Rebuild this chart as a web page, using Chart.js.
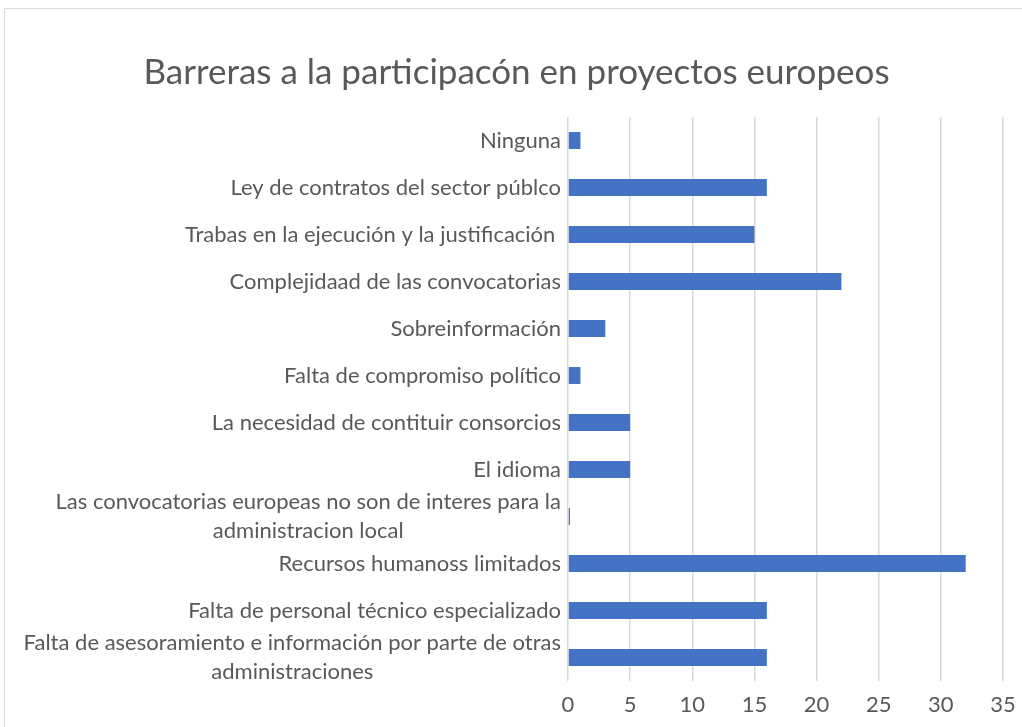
<!DOCTYPE html>
<html>
<head>
<meta charset="utf-8">
<script src="https://cdn.jsdelivr.net/npm/chart.js@4"></script>
<style>
  body { margin: 0; background: #fff; overflow: hidden; }
  .frame { position: absolute; left: 4px; top: 8px; width: 1100px; height: 800px; border: 1px solid #d9d9d9; }
  #chart { position: absolute; left: 0; top: 0; }
</style>
</head>
<body>
<div class="frame"></div>
<canvas id="chart" width="1022" height="727"></canvas>
<script>
const chartTitle = 'Barreras a la participacón en proyectos europeos'

// Categories top to bottom; two long ones are split over two lines
const barriers = [
  'Ninguna',
  'Ley de contratos del sector públco',
  'Trabas en la ejecución y la justificación ',
  'Complejidaad de las convocatorias',
  'Sobreinformación',
  'Falta de compromiso político',
  'La necesidad de contituir consorcios',
  'El idioma',
  ['Las convocatorias europeas no son de interes para la', 'administracion local'],
  'Recursos humanoss limitados',
  'Falta de personal técnico especializado',
  ['Falta de asesoramiento e información por parte de otras', 'administraciones']
]

const responses = [1, 16, 15, 22, 3, 1, 5, 5, 0, 32, 16, 16]

const xTicks = [0, 5, 10, 15, 20, 25, 30, 35]

const textColor = '#595959'
const fontFamily = 'Lato, "Open Sans", sans-serif'
const labelSize = 22
const labelLineHeight = 29

// Category labels drawn by hand so that wrapped lines are centred on each other
const wrappedLabels = {
  id: 'wrappedLabels',
  afterDraw(chart) {
    const ctx = chart.ctx
    const yScale = chart.scales.y
    const right = chart.chartArea.left - 7
    ctx.save()
    ctx.font = labelSize + 'px ' + fontFamily
    ctx.fillStyle = textColor
    ctx.textBaseline = 'middle'
    ctx.textAlign = 'center'
    barriers.forEach((label, i) => {
      const lines = Array.isArray(label) ? label : [label]
      const widest = Math.max(...lines.map(l => ctx.measureText(l).width))
      const cx = right - widest / 2
      const cy = yScale.getPixelForTick(i)
      const top = cy - (lines.length - 1) * labelLineHeight / 2
      lines.forEach((line, j) => {
        ctx.fillText(line, cx, top + j * labelLineHeight)
      })
    })
    ctx.restore()
  }
}

new Chart(document.getElementById('chart'), {
  type: 'bar',
  data: {
    labels: barriers,
    datasets: [{
      label: 'Respuestas',
      data: responses,
      backgroundColor: '#4472c4',
      borderWidth: 0,
      barPercentage: 0.36,
      categoryPercentage: 1,
      minBarLength: 2
    }]
  },
  options: {
    indexAxis: 'y',
    responsive: false,
    animation: false,
    layout: {
      padding: { left: 30, right: 19, top: 0, bottom: 9 }
    },
    plugins: {
      legend: { display: false },
      tooltip: { enabled: false },
      title: {
        display: true,
        text: chartTitle,
        color: textColor,
        font: { family: fontFamily, size: 35, weight: 'normal', lineHeight: 1.2 },
        padding: { top: 52, bottom: 23 }
      }
    },
    scales: {
      x: {
        min: xTicks[0],
        max: xTicks[xTicks.length - 1],
        afterBuildTicks: scale => { scale.ticks = xTicks.map(v => ({ value: v })) },
        afterFit: scale => {
          scale.height = 37
          scale.paddingRight = 0   // let the layout padding alone decide the right edge
        },
        grid: { color: '#d9d9d9', lineWidth: 1.5, drawTicks: false },
        border: { display: false },
        ticks: {
          color: textColor,
          font: { family: fontFamily, size: labelSize },
          padding: 11
        }
      },
      y: {
        grid: { display: false },
        border: { display: false },
        ticks: { display: false },
        afterFit: scale => { scale.width = 538 }
      }
    }
  },
  plugins: [wrappedLabels]
})
</script>
</body>
</html>
